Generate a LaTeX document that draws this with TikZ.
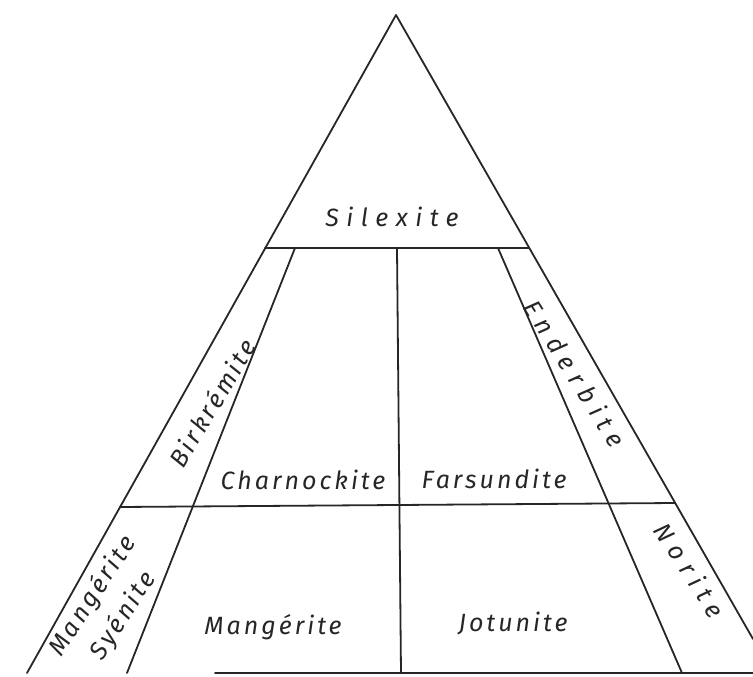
\documentclass[tikz,border=0pt]{standalone}
\usepackage{fontspec}
\newfontfamily\hand{Fira Sans}[LetterSpace=12]
\newfontfamily\handwide{Fira Sans}[LetterSpace=30]
\begin{document}
\begin{tikzpicture}[x=1pt,y=-1pt,
  edge/.style={line width=1.8pt,line cap=round,line join=round,black!85},
  lbl/.style={font=\hand\itshape\fontsize{25}{25}\selectfont,inner sep=0pt,text=black!85},
  wlbl/.style={font=\handwide\itshape\fontsize{25}{25}\selectfont,inner sep=0pt,text=black!85}]
\useasboundingbox (0,0) rectangle (753,677);
% frame coordinates
\coordinate (apex) at (396,15);
\coordinate (bl) at (27,673);
\coordinate (rc) at (753,639);
\coordinate (sl) at (265,248);
\coordinate (sr) at (529,248);
\coordinate (ml) at (120,507);
\coordinate (mr) at (675,503);
\coordinate (bt) at (295,248);
\coordinate (bb) at (127,673);
\coordinate (vt) at (397,248);
\coordinate (vb) at (401,673);
\coordinate (et) at (498,248);
\coordinate (eb) at (682,673);
\coordinate (b0) at (215,673);
\coordinate (b1) at (753,673);
% outline
\draw[edge] (bl) -- (apex) -- (rc);
\draw[edge] (b0) -- (b1);
\draw[edge] (sl) -- (sr);
\draw[edge] (ml) -- (mr);
\draw[edge] (bt) -- (bb);
\draw[edge] (vt) -- (vb);
\draw[edge] (et) -- (eb);
% labels
\node[wlbl] (sil) at (392,217) {Silexite};
\node[lbl] (cha) at (303,480) {Charnockite};
\node[lbl] (far) at (494,479) {Farsundite};
\node[lbl] (man) at (273,627) {Mangérite};
\node[lbl] (jot) at (513,623) {Jotunite};
\node[wlbl,rotate=-57] (nor) at (690,570) {Norite};
\node[wlbl,rotate=-58] (end) at (575,373) {Enderbite};
\node[lbl,rotate=59] (bir) at (212,403) {Birkrémite};
\node[lbl,rotate=57,align=center,font=\hand\itshape\fontsize{25}{36}\selectfont] (ms) at (108,606) {Mangérite\\Syénite};
\end{tikzpicture}
\end{document}
